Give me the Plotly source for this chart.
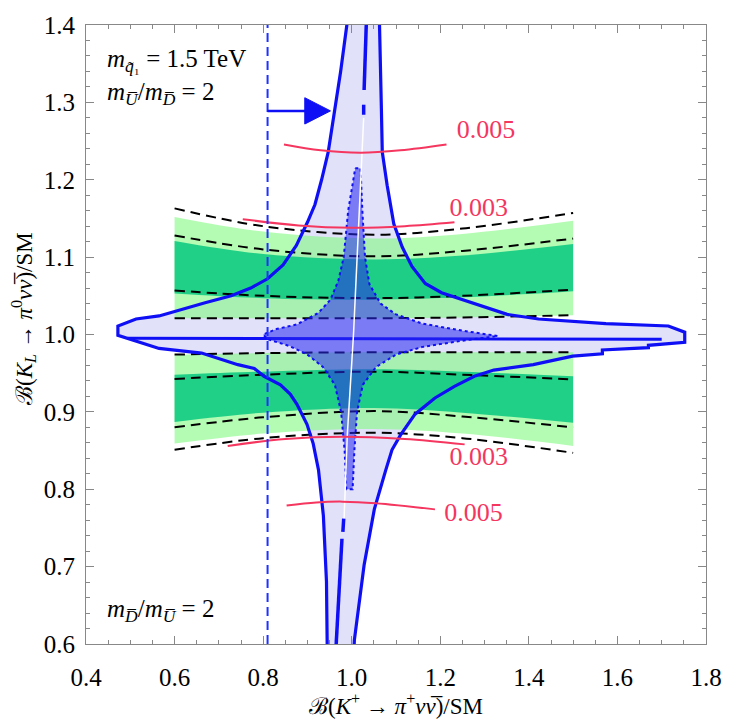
import plotly.graph_objects as go

FONT = "Liberation Serif"
BLUE = "rgb(15,15,245)"
RED = "#f5365f"
LAVENDER = "#e1e1fa"

# ---- axis ticks ----
x_ticks = [0.4, 0.6, 0.8, 1.0, 1.2, 1.4, 1.6, 1.8]
x_ticktext = ["0.4", "0.6", "0.8", "1.0", "1.2", "1.4", "1.6", "1.8"]
y_ticks = [0.6, 0.7, 0.8, 0.9, 1.0, 1.1, 1.2, 1.3, 1.4]
y_ticktext = ["0.6", "0.7", "0.8", "0.9", "1.0", "1.1", "1.2", "1.3", "1.4"]

# ---- allowed (lavender) region outline ----
region_x = [0.992, 0.989, 0.975, 0.962, 0.947, 0.932, 0.917, 0.900, 0.875, 0.845, 0.810,
            0.772, 0.728, 0.669, 0.617, 0.565, 0.513, 0.472, 0.472, 0.520, 0.565, 0.661,
            0.743, 0.780, 0.802, 0.839, 0.861, 0.876, 0.899, 0.913, 0.925, 0.936, 0.943,
            0.945, 1.004, 1.006, 1.028, 1.051, 1.069, 1.077, 1.091, 1.110, 1.143, 1.188,
            1.232, 1.277, 1.321, 1.410, 1.499, 1.566, 1.566, 1.670, 1.670, 1.752, 1.752,
            1.715, 1.574, 1.422, 1.351, 1.292, 1.247, 1.203, 1.166, 1.136, 1.114, 1.095,
            1.080, 1.069, 1.067, 1.063, 1.062, 0.992]
region_y = [1.420, 1.400, 1.340, 1.291, 1.236, 1.200, 1.168, 1.145, 1.115, 1.090, 1.072,
            1.060, 1.050, 1.041, 1.033, 1.024, 1.020, 1.011, 0.999, 0.990, 0.982, 0.976,
            0.961, 0.956, 0.946, 0.935, 0.923, 0.910, 0.884, 0.859, 0.825, 0.766, 0.681,
            0.580, 0.580, 0.605, 0.702, 0.774, 0.812, 0.825, 0.851, 0.870, 0.897, 0.918,
            0.933, 0.946, 0.954, 0.961, 0.972, 0.975, 0.980, 0.983, 0.986, 0.990, 1.003,
            1.011, 1.014, 1.020, 1.026, 1.037, 1.045, 1.054, 1.066, 1.088, 1.113, 1.143,
            1.193, 1.236, 1.291, 1.400, 1.420, 1.420]

# inner boundary pieces of the allowed region
mid_up_x = [1.034, 1.031, 1.028]
mid_up_y = [1.420, 1.370, 1.316]
mid_up_dash_x = [1.027, 1.027]
mid_up_dash_y = [1.297, 1.284]
mid_lo_dash_x = [0.982, 0.980]
mid_lo_dash_y = [0.762, 0.745]
mid_lo_x = [0.978, 0.972, 0.965, 0.963]
mid_lo_y = [0.736, 0.670, 0.605, 0.580]
mid_h_x = [0.494, 1.700]
mid_h_y = [0.995, 0.994]
white_x = [1.027, 1.017, 1.004, 0.990, 0.982]
white_y = [1.280, 1.164, 1.000, 0.870, 0.750]

# ---- central (star shaped) region ----
star_x = [1.008, 1.020, 1.024, 1.030, 1.040, 1.065, 1.100, 1.160, 1.250, 1.330,
          1.250, 1.160, 1.100, 1.055, 1.025, 1.012, 1.006, 1.002, 0.988, 0.984,
          0.976, 0.962, 0.935, 0.900, 0.860, 0.810, 0.800, 0.830, 0.876, 0.925,
          0.952, 0.970, 0.982, 0.992, 1.008]
star_y = [1.215, 1.215, 1.160, 1.100, 1.065, 1.040, 1.026, 1.014, 1.005, 0.998,
          0.992, 0.984, 0.974, 0.958, 0.935, 0.900, 0.850, 0.800, 0.800, 0.850,
          0.900, 0.935, 0.958, 0.974, 0.985, 0.994, 1.000, 1.007, 1.013, 1.028,
          1.045, 1.070, 1.100, 1.160, 1.215]

# ---- green bands (fills) ----
band_x = [0.6, 0.8, 1.05, 1.25, 1.5]
light_out_up = [1.152, 1.133, 1.124, 1.130, 1.147]
dark_out_up = [1.121, 1.104, 1.097, 1.102, 1.117]
dark_in_up = [1.053, 1.047, 1.045, 1.048, 1.056]
light_in_up = [1.021, 1.021, 1.021, 1.022, 1.025]
light_in_lo = [0.974, 0.976, 0.977, 0.977, 0.977]
dark_in_lo = [0.948, 0.952, 0.955, 0.952, 0.946]
dark_out_lo = [0.887, 0.899, 0.905, 0.899, 0.886]
light_out_lo = [0.859, 0.872, 0.878, 0.872, 0.856]

# ---- dashed band edges ----
dash_lines = {
    "A_up": [1.163, 1.140, 1.129, 1.137, 1.157],
    "B_up": [1.128, 1.110, 1.101, 1.108, 1.124],
    "C_up": [1.057, 1.050, 1.047, 1.050, 1.058],
    "D_up": [1.021, 1.021, 1.021, 1.022, 1.025],
    "D_lo": [0.974, 0.976, 0.977, 0.977, 0.977],
    "C_lo": [0.9425, 0.948, 0.952, 0.948, 0.942],
    "B_lo": [0.880, 0.893, 0.901, 0.894, 0.880],
    "A_lo": [0.851, 0.866, 0.873, 0.866, 0.847],
}

# ---- red contours ----
red_curves = [
    ([0.847, 0.930, 1.020, 1.110, 1.214], [1.2455, 1.238, 1.235, 1.238, 1.2455]),
    ([0.754, 0.880, 1.000, 1.120, 1.232], [1.149, 1.141, 1.138, 1.140, 1.145]),
    ([0.720, 0.850, 0.980, 1.120, 1.255], [0.856, 0.865, 0.868, 0.865, 0.858]),
    ([0.853, 0.920, 0.980, 1.054, 1.188], [0.779, 0.783, 0.784, 0.782, 0.774]),
]
red_labels = ["0.005", "0.003", "0.003", "0.005"]
red_label_x = [1.303, 1.287, 1.287, 1.275]
red_label_y = [1.262, 1.162, 0.840, 0.768]

# ---- vertical bound with arrow ----
bound_x = 0.81
bound_y = [0.6, 1.4]
arrow_x = [0.81, 0.90]
arrow_y = [1.289, 1.289]
arrow_head_x = [0.894, 0.952, 0.894, 0.894]
arrow_head_y = [1.306, 1.289, 1.272, 1.306]

# ---- text labels ----
UBAR = "U\u0305"
DBAR = "D\u0305"
NUBAR = "\u03bd\u0305"
txt_mass = "<i>m</i><sub><i>q\u0303</i>\u2081</sub> = 1.5 TeV"
txt_ratio_up = f"<i>m</i><sub><i>{UBAR}</i></sub>/<i>m</i><sub><i>{DBAR}</i></sub> = 2"
txt_ratio_lo = f"<i>m</i><sub><i>{DBAR}</i></sub>/<i>m</i><sub><i>{UBAR}</i></sub> = 2"
txt_xtitle = f"ℬ(<i>K</i><sup>+</sup> → <i>π</i><sup>+</sup><i>ν{NUBAR}</i>)/SM"
txt_ytitle = f"ℬ(<i>K<sub>L</sub></i> → <i>π</i><sup>0</sup><i>ν{NUBAR}</i>)/SM"

fig = go.Figure()

# lavender fill
fig.add_trace(go.Scatter(x=region_x, y=region_y, mode="lines", fill="toself",
                         fillcolor=LAVENDER, line=dict(width=0), hoverinfo="skip"))


def band(inner, outer, color):
    fig.add_trace(go.Scatter(x=band_x, y=inner, mode="lines", line=dict(width=0, shape="spline"),
                             hoverinfo="skip"))
    fig.add_trace(go.Scatter(x=band_x, y=outer, mode="lines", line=dict(width=0, shape="spline"),
                             fill="tonexty", fillcolor=color, hoverinfo="skip"))


LIGHT_G = "rgba(130,248,130,0.6)"
DARK_G = "rgba(0,198,125,0.82)"
band(light_in_up, light_out_up, LIGHT_G)
band(light_in_lo, light_out_lo, LIGHT_G)
band(dark_in_up, dark_out_up, DARK_G)
band(dark_in_lo, dark_out_lo, DARK_G)

for name, ys in dash_lines.items():
    fig.add_trace(go.Scatter(x=band_x, y=ys, mode="lines",
                             line=dict(color="black", width=2, dash="10px,6px", shape="spline"),
                             hoverinfo="skip"))

# horizontal blue line
fig.add_trace(go.Scatter(x=mid_h_x, y=mid_h_y, mode="lines",
                         line=dict(color=BLUE, width=3), hoverinfo="skip"))

# star region
fig.add_trace(go.Scatter(x=star_x, y=star_y, mode="lines", fill="toself",
                         fillcolor="rgba(40,40,240,0.55)",
                         line=dict(color=BLUE, width=2, dash="dot"), hoverinfo="skip"))

# white thin line
fig.add_trace(go.Scatter(x=white_x, y=white_y, mode="lines",
                         line=dict(color="white", width=1.5), hoverinfo="skip"))

# region boundary
fig.add_trace(go.Scatter(x=region_x, y=region_y, mode="lines",
                         line=dict(color=BLUE, width=3.2), hoverinfo="skip"))
for xs, ys in [(mid_up_x, mid_up_y), (mid_up_dash_x, mid_up_dash_y),
               (mid_lo_dash_x, mid_lo_dash_y), (mid_lo_x, mid_lo_y)]:
    fig.add_trace(go.Scatter(x=xs, y=ys, mode="lines",
                             line=dict(color=BLUE, width=3.5), hoverinfo="skip"))

# red contours
for xs, ys in red_curves:
    fig.add_trace(go.Scatter(x=xs, y=ys, mode="lines",
                             line=dict(color=RED, width=2, shape="spline"), hoverinfo="skip"))
fig.add_trace(go.Scatter(x=red_label_x, y=red_label_y, mode="text", text=red_labels,
                         textfont=dict(family=FONT, size=26, color=RED), hoverinfo="skip"))

# vertical dashed bound + arrow
fig.add_trace(go.Scatter(x=[bound_x, bound_x], y=bound_y, mode="lines",
                         line=dict(color="rgb(30,50,255)", width=2, dash="9px,5px"),
                         hoverinfo="skip"))
fig.add_trace(go.Scatter(x=arrow_x, y=arrow_y, mode="lines",
                         line=dict(color=BLUE, width=2.5), hoverinfo="skip"))
fig.add_trace(go.Scatter(x=arrow_head_x, y=arrow_head_y, mode="lines", fill="toself",
                         fillcolor=BLUE, line=dict(color=BLUE, width=1), hoverinfo="skip"))

tickfont = dict(family=FONT, size=25, color="black")
axis_common = dict(showgrid=False, zeroline=False, showline=True, linecolor="#888",
                   linewidth=1.2, mirror="ticks", ticks="inside", ticklen=8,
                   tickcolor="#888", tickwidth=1, tickfont=tickfont)

fig.update_layout(
    width=734, height=719,
    margin=dict(l=86, r=18, t=14, b=75),
    plot_bgcolor="white", paper_bgcolor="white",
    showlegend=False,
    font=dict(family=FONT),
    xaxis=dict(range=[0.4, 1.8], tickvals=x_ticks, ticktext=x_ticktext,
               minor=dict(dtick=0.05, tick0=0.4, ticks="inside", ticklen=4, tickcolor="#888"),
               ticklabelstandoff=11, **axis_common),
    yaxis=dict(range=[0.6, 1.4], tickvals=y_ticks, ticktext=y_ticktext,
               minor=dict(dtick=0.02, tick0=0.6, ticks="inside", ticklen=4, tickcolor="#888"),
               ticklabelstandoff=5, **axis_common),
    annotations=[
        dict(x=0.442, y=1.354, xref="x", yref="y", xanchor="left", yanchor="middle",
             showarrow=False, text=txt_mass,
             font=dict(family=FONT, size=25, color="black")),
        dict(x=0.442, y=1.312, xref="x", yref="y", xanchor="left", yanchor="middle",
             showarrow=False, text=txt_ratio_up,
             font=dict(family=FONT, size=25, color="black")),
        dict(x=0.442, y=0.643, xref="x", yref="y", xanchor="left", yanchor="middle",
             showarrow=False, text=txt_ratio_lo,
             font=dict(family=FONT, size=25, color="black")),
        dict(x=0.5, y=-0.098, xref="paper", yref="paper", xanchor="center", yanchor="middle",
             showarrow=False, text=txt_xtitle,
             font=dict(family=FONT, size=23, color="black")),
        dict(x=-0.1016, y=0.525, xref="paper", yref="paper", xanchor="center", yanchor="middle",
             showarrow=False, textangle=-90, text=txt_ytitle,
             font=dict(family=FONT, size=23, color="black")),
    ],
)

fig.write_html("out.html")
